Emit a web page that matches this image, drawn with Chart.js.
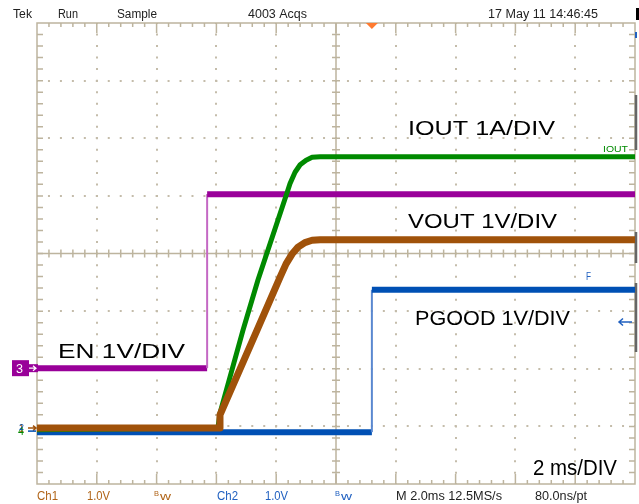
<!DOCTYPE html>
<html><head><meta charset="utf-8">
<script src="https://cdn.jsdelivr.net/npm/chart.js@4"></script>
<style>html,body{margin:0;padding:0;background:#fff}canvas{display:block}</style>
</head><body><canvas id="c" width="639" height="504"></canvas>
<script>
// time in ms (2 ms/div, 10 div), level in divisions (8 div)
const enTime     = [0, 5.69, 5.69, 20];
const enLevel    = [2.01, 2.01, 5.03, 5.03];
const ioutTime   = [0, 6.05, 6.12, 6.89, 7.39, 8.36, 8.46, 8.63, 8.80, 9.00, 9.20, 9.47, 20];
const ioutLevel  = [0.94, 0.97, 1.23, 2.67, 3.54, 5.05, 5.21, 5.41, 5.54, 5.62, 5.67, 5.68, 5.68];
const voutTime   = [0, 6.09, 6.12, 7.36, 8.13, 8.33, 8.53, 8.73, 8.96, 9.20, 9.47, 20];
const voutLevel  = [0.97, 0.97, 1.20, 2.67, 3.59, 3.82, 3.99, 4.11, 4.19, 4.23, 4.24, 4.24];
const pgoodTime  = [0, 11.2, 11.2, 20];
const pgoodLevel = [0.90, 0.90, 3.37, 3.37];
const triggerTime = 11.2;
const xTicks = [0, 2, 4, 6, 8, 10, 12, 14, 16, 18, 20];
const yTicks = [0, 1, 2, 3, 4, 5, 6, 7, 8];

const headerTexts = ["Tek", "Run", "Sample", "4003 Acqs", "17 May 11 14:46:45"];
const footerTexts = ["Ch1", "1.0V", "Ch2", "1.0V", "M 2.0ms 12.5MS/s", "80.0ns/pt"];
const labelTexts  = ["IOUT 1A/DIV", "VOUT 1V/DIV", "PGOOD 1V/DIV", "EN 1V/DIV", "2 ms/DIV"];

const C_EN = '#990099', C_IOUT = '#008a00', C_VOUT = '#a0520a', C_PG = '#0050b4';
const GRAT = '#bdb49e';

function pts(t, v) { return t.map((x, i) => ({x: x, y: v[i]})); }

function seg(light) {
  return {
    borderWidth: c => (c.p0.parsed.x === c.p1.parsed.x ? 2 : undefined),
    borderColor: c => (c.p0.parsed.x === c.p1.parsed.x ? light : undefined)
  };
}

function txt(ctx, s, x, y, size, color, w, family) {
  ctx.save();
  ctx.font = size + 'px ' + (family || '"Liberation Sans", Arial, sans-serif');
  ctx.fillStyle = color;
  ctx.textBaseline = 'alphabetic';
  const m = ctx.measureText(s).width;
  ctx.translate(x, y);
  if (w) ctx.scale(w / m, 1);
  ctx.fillText(s, 0, 0);
  ctx.restore();
}

const graticule = {
  id: 'graticule',
  beforeDatasetsDraw(chart) {
    const ctx = chart.ctx, a = chart.chartArea;
    const xs = chart.scales.x, ys = chart.scales.y;
    const mx = (xs.getPixelForValue(2) - xs.getPixelForValue(0)) / 5;
    const my = (ys.getPixelForValue(0) - ys.getPixelForValue(1)) / 5;
    const cx = xs.getPixelForValue(10), cy = ys.getPixelForValue(4);
    ctx.save();
    ctx.strokeStyle = GRAT;
    ctx.lineWidth = 1.5;
    ctx.strokeRect(a.left, a.top, a.right - a.left, a.bottom - a.top);
    ctx.beginPath();
    ctx.moveTo(cx, a.top); ctx.lineTo(cx, a.bottom);
    ctx.moveTo(a.left, cy); ctx.lineTo(a.right, cy);
    ctx.stroke();
    ctx.beginPath();
    for (let i = 1; i < 50; i++) {
      const x = a.left + i * mx;
      const big = i % 5 === 0 ? 10 : 4;
      ctx.moveTo(x, a.top); ctx.lineTo(x, a.top + big);
      ctx.moveTo(x, a.bottom); ctx.lineTo(x, a.bottom - big);
      ctx.moveTo(x, cy - 4); ctx.lineTo(x, cy + 4);
    }
    for (let j = 1; j < 40; j++) {
      const y = a.top + j * my;
      ctx.moveTo(a.left, y); ctx.lineTo(a.left + 6, y);
      ctx.moveTo(a.right, y); ctx.lineTo(a.right - 6, y);
      ctx.moveTo(cx - 4, y); ctx.lineTo(cx + 4, y);
    }
    ctx.stroke();
    ctx.strokeStyle = '#666';
    ctx.lineWidth = 2.5;
    ctx.beginPath();
    [[95, 150], [232, 263], [283, 352]].forEach(s => { ctx.moveTo(a.right + 1, s[0]); ctx.lineTo(a.right + 1, s[1]); });
    ctx.stroke();
    ctx.fillStyle = '#2060c0';
    ctx.fillRect(a.right, 32, 2, 6);
    ctx.restore();
    txt(ctx, 'IOUT', 603, 152, 9, C_IOUT, 25);
    txt(ctx, 'F', 586, 280, 10, '#2060c0', 5);
  },
  afterDatasetsDraw(chart) {
    const ctx = chart.ctx, a = chart.chartArea;
    const xs = chart.scales.x, ys = chart.scales.y;
    const tx = xs.getPixelForValue(triggerTime);
    ctx.save();
    ctx.fillStyle = '#ff7a30';
    ctx.beginPath();
    ctx.moveTo(tx - 6, a.top); ctx.lineTo(tx + 6, a.top); ctx.lineTo(tx, a.top + 6);
    ctx.closePath(); ctx.fill();
    ctx.fillStyle = '#000';
    ctx.fillRect(636, 8, 3, 12);
    const ey = ys.getPixelForValue(enLevel[0]);
    ctx.fillStyle = C_EN;
    ctx.fillRect(12, ey - 8, 17, 16);
    ctx.fillRect(28, ey - 4, 10, 8);
    ctx.strokeStyle = '#fff';
    ctx.lineWidth = 1.2;
    ctx.beginPath();
    ctx.moveTo(29, ey); ctx.lineTo(36, ey);
    ctx.moveTo(33, ey - 2.5); ctx.lineTo(36, ey); ctx.lineTo(33, ey + 2.5);
    ctx.stroke();
    const gy = ys.getPixelForValue(voutLevel[0]);
    ctx.strokeStyle = C_VOUT; ctx.lineWidth = 1.5;
    ctx.beginPath(); ctx.moveTo(28, gy); ctx.lineTo(36, gy); ctx.moveTo(33, gy - 2.5); ctx.lineTo(36, gy); ctx.lineTo(33, gy + 2.5); ctx.stroke();
    ctx.strokeStyle = C_PG;
    ctx.beginPath(); ctx.moveTo(28, gy + 3); ctx.lineTo(36, gy + 3); ctx.stroke();
    ctx.strokeStyle = '#2060c0'; ctx.lineWidth = 1.5;
    ctx.beginPath(); ctx.moveTo(632, 322); ctx.lineTo(619, 322); ctx.moveTo(623, 318.5); ctx.lineTo(619, 322); ctx.lineTo(623, 325.5); ctx.stroke();
    ctx.restore();
    txt(ctx, '3', 16, ey + 5, 13, '#fff', 7);
    txt(ctx, '1', 19, gy + 4, 10, C_VOUT, 5);
    txt(ctx, '4', 18, gy + 7, 10, C_IOUT, 6);
    txt(ctx, '2', 19, gy + 2, 9, C_PG, 5);
  },
  afterDraw(chart) {
    const ctx = chart.ctx;
    const hx = [[13, 19], [58, 20], [117, 40], [248, 59], [488, 110]];
    headerTexts.forEach((s, i) => txt(ctx, s, hx[i][0], 18, 12, '#222', hx[i][1]));
    txt(ctx, footerTexts[0], 37, 500, 12, '#b06418', 21);
    txt(ctx, footerTexts[1], 87, 500, 12, '#b06418', 23);
    txt(ctx, 'B', 154, 496, 7, '#b06418', 5);
    txt(ctx, 'w', 160, 500, 10, '#b06418', 11);
    txt(ctx, footerTexts[2], 217, 500, 12, '#2060c0', 21);
    txt(ctx, footerTexts[3], 265, 500, 12, '#2060c0', 23);
    txt(ctx, 'B', 335, 496, 7, '#2060c0', 5);
    txt(ctx, 'w', 341, 500, 10, '#2060c0', 11);
    txt(ctx, footerTexts[4], 396, 500, 12, '#222', 106);
    txt(ctx, footerTexts[5], 535, 500, 12, '#222', 52);
    txt(ctx, labelTexts[0], 408, 135, 20, '#000', 147);
    txt(ctx, labelTexts[1], 408, 228, 20, '#000', 149);
    txt(ctx, labelTexts[2], 415, 325, 20, '#000', 155);
    txt(ctx, labelTexts[3], 58, 358, 20, '#000', 127);
    txt(ctx, labelTexts[4], 533, 475, 22, '#000', 84);
  }
};

new Chart(document.getElementById('c'), {
  type: 'line',
  data: {
    datasets: [
      { label: 'VOUT', data: pts(voutTime, voutLevel), borderColor: C_VOUT, borderWidth: 7, borderJoinStyle: 'round' },
      { label: 'IOUT', data: pts(ioutTime, ioutLevel), borderColor: C_IOUT, borderWidth: 5, borderJoinStyle: 'round' },
      { label: 'EN', data: pts(enTime, enLevel), borderColor: C_EN, borderWidth: 6, segment: seg('#c468c4') },
      { label: 'PGOOD', data: pts(pgoodTime, pgoodLevel), borderColor: C_PG, borderWidth: 6, segment: seg('#5a88d0') }
    ]
  },
  options: {
    responsive: false,
    animation: false,
    events: [],
    elements: { point: { radius: 0 }, line: { tension: 0, borderJoinStyle: 'miter', borderCapStyle: 'butt' } },
    layout: { padding: { left: 37, top: 23, right: 4, bottom: 20 } },
    plugins: { legend: { display: false }, tooltip: { enabled: false } },
    scales: {
      x: {
        type: 'linear', min: 0, max: 20,
        afterFit: s => { s.height = 0; },
        afterBuildTicks: s => { s.ticks = xTicks.map(v => ({value: v})); },
        ticks: { display: false },
        border: { display: false, dash: [2, 9.53], dashOffset: 1 },
        grid: {
          drawTicks: false, lineWidth: 2, borderDash: [2, 9.53], borderDashOffset: 1,
          color: c => (c.tick && (c.tick.value === 0 || c.tick.value === 10 || c.tick.value === 20) ? 'rgba(0,0,0,0)' : '#c4bcaa')
        }
      },
      y: {
        type: 'linear', min: 0, max: 8,
        afterFit: s => { s.width = 0; },
        afterBuildTicks: s => { s.ticks = yTicks.map(v => ({value: v})); },
        ticks: { display: false },
        border: { display: false, dash: [2, 9.96], dashOffset: 1 },
        grid: {
          drawTicks: false, lineWidth: 2, borderDash: [2, 9.96], borderDashOffset: 1,
          color: c => (c.tick && (c.tick.value === 0 || c.tick.value === 4 || c.tick.value === 8) ? 'rgba(0,0,0,0)' : '#c4bcaa')
        }
      }
    }
  },
  plugins: [graticule]
});
</script>
</body></html>
